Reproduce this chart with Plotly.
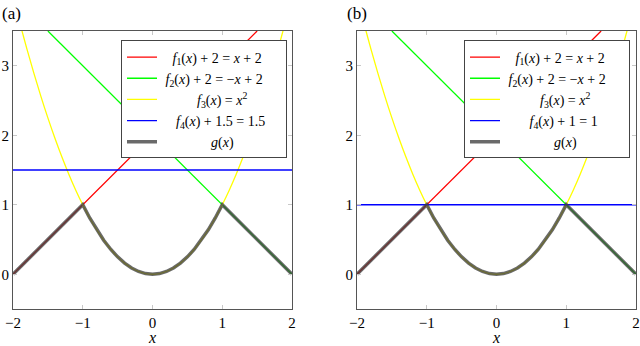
import plotly.graph_objects as go

# straight lines (endpoints)
f1_x = [-2, 1.5]
f1_y = [0, 3.5]
f2_x = [-1.5, 2]
f2_y = [3.5, 0]
f4_x = [-2, 2]
f4a_y = [1.5, 1.5]
f4b_y = [1, 1]

# parabola samples
f3_x = [-1.9, -1.8, -1.7, -1.6, -1.5, -1.4, -1.3, -1.2, -1.1, -1.0,
        -0.9, -0.8, -0.7, -0.6, -0.5, -0.4, -0.3, -0.2, -0.1, 0.0,
        0.1, 0.2, 0.3, 0.4, 0.5, 0.6, 0.7, 0.8, 0.9, 1.0,
        1.1, 1.2, 1.3, 1.4, 1.5, 1.6, 1.7, 1.8, 1.9]
f3_y = [3.61, 3.24, 2.89, 2.56, 2.25, 1.96, 1.69, 1.44, 1.21, 1.00,
        0.81, 0.64, 0.49, 0.36, 0.25, 0.16, 0.09, 0.04, 0.01, 0.00,
        0.01, 0.04, 0.09, 0.16, 0.25, 0.36, 0.49, 0.64, 0.81, 1.00,
        1.21, 1.44, 1.69, 1.96, 2.25, 2.56, 2.89, 3.24, 3.61]

# g(x) = min of the three
g_x = [-2.0, -1.0, -0.9, -0.8, -0.7, -0.6, -0.5, -0.4, -0.3, -0.2, -0.1, 0.0,
       0.1, 0.2, 0.3, 0.4, 0.5, 0.6, 0.7, 0.8, 0.9, 1.0, 2.0]
g_y = [0.0, 1.0, 0.81, 0.64, 0.49, 0.36, 0.25, 0.16, 0.09, 0.04, 0.01, 0.0,
       0.01, 0.04, 0.09, 0.16, 0.25, 0.36, 0.49, 0.64, 0.81, 1.0, 0.0]

x_ticks = [-2, -1, 0, 1, 2]
y_ticks = [0, 1, 2, 3]

nb = "\u00a0"
names_a = [
    nb * 3 + "<i>f</i><sub>1</sub>(<i>x</i>) + 2 = <i>x</i> + 2",
    nb + "<i>f</i><sub>2</sub>(<i>x</i>) + 2 = \u2212<i>x</i> + 2" + nb * 5,
    nb * 10 + "<i>f</i><sub>3</sub>(<i>x</i>) = <i>x</i><sup>2</sup>",
    nb * 4 + "<i>f</i><sub>4</sub>(<i>x</i>) + 1.5 = 1.5",
    nb * 14 + "<i>g</i>(<i>x</i>)",
]
names_b = list(names_a)
names_b[3] = nb * 7 + "<i>f</i><sub>4</sub>(<i>x</i>) + 1 = 1"

font = "Liberation Serif"
fig = go.Figure()

for i, (f4_y, names) in enumerate([(f4a_y, names_a), (f4b_y, names_b)]):
    xa = "x" if i == 0 else "x2"
    ya = "y" if i == 0 else "y2"
    lg = "legend" if i == 0 else "legend2"
    common = dict(xaxis=xa, yaxis=ya, legend=lg, mode="lines", hoverinfo="skip")
    fig.add_trace(go.Scatter(x=f1_x, y=f1_y, name=names[0], line=dict(color="#ff0000", width=1.3), **common))
    fig.add_trace(go.Scatter(x=f2_x, y=f2_y, name=names[1], line=dict(color="#00ff00", width=1.3), **common))
    fig.add_trace(go.Scatter(x=f3_x, y=f3_y, name=names[2], line=dict(color="#ffff00", width=1.3, shape="spline"), **common))
    fig.add_trace(go.Scatter(x=f4_x, y=f4_y, name=names[3], line=dict(color="#0000ff", width=1.3), **common))
    fig.add_trace(go.Scatter(x=g_x, y=g_y, name=names[4], line=dict(color="rgba(64,64,64,0.78)", width=3.5), **common))

axis_common = dict(
    showgrid=False, zeroline=False, showline=True, linecolor="#555555", linewidth=1,
    mirror="ticks", ticks="inside", ticklen=4, tickcolor="#c8c8c8", automargin=False,
    tickfont=dict(family=font, size=15, color="black"),
)

leg_common = dict(
    font=dict(family=font, size=14, color="black"),
    bgcolor="white", bordercolor="#444444", borderwidth=1,
    xanchor="right", yanchor="top", itemwidth=30, tracegroupgap=0,
)

fig.update_layout(
    width=640, height=346,
    font=dict(family=font, color="black"),
    margin=dict(l=0, r=0, t=31, b=37),
    plot_bgcolor="white", paper_bgcolor="white",
    xaxis=dict(domain=[13 / 640, 292 / 640], range=[-2, 2], tickvals=x_ticks,
               title=dict(text="<i>x</i>", font=dict(family=font, size=16), standoff=6), **axis_common),
    yaxis=dict(domain=[0, 1], range=[-0.5, 3.5], tickvals=y_ticks, **axis_common),
    xaxis2=dict(domain=[357 / 640, 636 / 640], range=[-2, 2], tickvals=x_ticks, anchor="y2",
                title=dict(text="<i>x</i>", font=dict(family=font, size=16), standoff=6), **axis_common),
    yaxis2=dict(domain=[0, 1], range=[-0.5, 3.5], tickvals=y_ticks, anchor="x2", **axis_common),
    legend=dict(x=287 / 640, y=0.966, **leg_common),
    legend2=dict(x=630 / 640, y=0.966, **leg_common),
    annotations=[
        dict(text="(a)", x=0, y=1, xref="paper", yref="paper", xanchor="left", yanchor="bottom",
             yshift=6, showarrow=False, font=dict(family=font, size=17, color="black")),
        dict(text="(b)", x=345 / 640, y=1, xref="paper", yref="paper", xanchor="left", yanchor="bottom",
             yshift=6, showarrow=False, font=dict(family=font, size=17, color="black")),
    ],
)

fig.write_html("out.html", config={"displayModeBar": False},
               post_script="document.body.style.margin='0';")
